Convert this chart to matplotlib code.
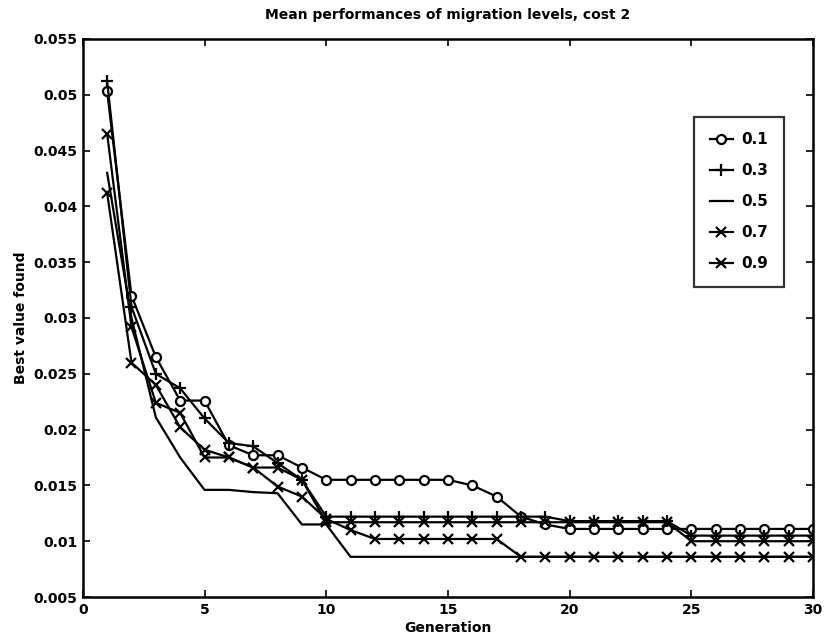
import matplotlib
matplotlib.use("Agg")
import matplotlib.pyplot as plt
import numpy as np

generations = list(range(1, 31))

mig_01 = [0.0503, 0.0320, 0.0265, 0.0226, 0.0226, 0.0186, 0.0177, 0.0177, 0.0166, 0.0155,
          0.0155, 0.0155, 0.0155, 0.0155, 0.0155, 0.0150, 0.0140, 0.0122, 0.0115, 0.0111,
          0.0111, 0.0111, 0.0111, 0.0111, 0.0111, 0.0111, 0.0111, 0.0111, 0.0111, 0.0111]
mig_03 = [0.0512, 0.0310, 0.0250, 0.0237, 0.0210, 0.0188, 0.0185, 0.0170, 0.0155, 0.0122,
          0.0122, 0.0122, 0.0122, 0.0122, 0.0122, 0.0122, 0.0122, 0.0122, 0.0122, 0.0118,
          0.0118, 0.0118, 0.0118, 0.0118, 0.0105, 0.0105, 0.0105, 0.0105, 0.0105, 0.0105]
mig_05 = [0.0430, 0.0300, 0.0211, 0.0175, 0.0146, 0.0146, 0.0144, 0.0143, 0.0115, 0.0115,
          0.0086, 0.0086, 0.0086, 0.0086, 0.0086, 0.0086, 0.0086, 0.0086, 0.0086, 0.0086,
          0.0086, 0.0086, 0.0086, 0.0086, 0.0086, 0.0086, 0.0086, 0.0086, 0.0086, 0.0086]
mig_07 = [0.0465, 0.0292, 0.0224, 0.0215, 0.0175, 0.0175, 0.0166, 0.0166, 0.0155, 0.0117,
          0.0117, 0.0117, 0.0117, 0.0117, 0.0117, 0.0117, 0.0117, 0.0117, 0.0117, 0.0117,
          0.0117, 0.0117, 0.0117, 0.0117, 0.0100, 0.0100, 0.0100, 0.0100, 0.0100, 0.0100]
mig_09 = [0.0412, 0.0260, 0.0240, 0.0202, 0.0182, 0.0175, 0.0166, 0.0149, 0.0140, 0.0120,
          0.0110, 0.0102, 0.0102, 0.0102, 0.0102, 0.0102, 0.0102, 0.0086, 0.0086, 0.0086,
          0.0086, 0.0086, 0.0086, 0.0086, 0.0086, 0.0086, 0.0086, 0.0086, 0.0086, 0.0086]

legend_labels = ["0.1", "0.3", "0.5", "0.7", "0.9"]
x_ticks = [0, 5, 10, 15, 20, 25, 30]
y_ticks = [0.005, 0.01, 0.015, 0.02, 0.025, 0.03, 0.035, 0.04, 0.045, 0.05, 0.055]
y_tick_labels = ["0.005", "0.01", "0.015", "0.02", "0.025", "0.03", "0.035",
                 "0.04", "0.045", "0.05", "0.055"]

plt.rcParams['font.family'] = ['DejaVu Sans']
fig = plt.figure(figsize=(8.28, 6.43), dpi=100)
ax = fig.add_axes([0.100, 0.0715, 0.882, 0.868])

lw = 1.6
ax.plot(generations, mig_01, color='black', lw=lw, marker='o', markersize=6.5,
        markerfacecolor='white', markeredgewidth=1.6, label=legend_labels[0])
ax.plot(generations, mig_03, color='black', lw=lw, marker='+', markersize=8,
        markeredgewidth=1.6, label=legend_labels[1])
ax.plot(generations, mig_05, color='black', lw=lw, label=legend_labels[2])
ax.plot(generations, mig_07, color='black', lw=lw, marker='x', markersize=6.5,
        markeredgewidth=1.6, label=legend_labels[3])
ax.plot(generations, mig_09, color='black', lw=lw, marker='x', markersize=6.5,
        markeredgewidth=1.6, label=legend_labels[4])

ax.set_xlim(0, 30)
ax.set_ylim(0.005, 0.055)
ax.set_xticks(x_ticks)
ax.set_xticklabels([str(t) for t in x_ticks], fontsize=10, fontweight='bold')
ax.set_yticks(y_ticks)
ax.set_yticklabels(y_tick_labels, fontsize=10, fontweight='bold')
ax.tick_params(direction='in', top=True, right=True, length=5, width=1.2, pad=4)
for s in ax.spines.values():
    s.set_linewidth(1.8)

ax.set_title("Mean performances of migration levels, cost 2", fontsize=10,
             fontweight='bold', pad=14)
ax.set_xlabel("Generation", fontsize=10, fontweight='bold', labelpad=3)
ax.set_ylabel("Best value found", fontsize=10, fontweight='bold', labelpad=4)

leg = ax.legend(loc='upper right', bbox_to_anchor=(0.96, 0.86), fontsize=11,
                frameon=True, fancybox=False, edgecolor='black', handlelength=1.5,
                labelspacing=1.05, borderpad=1.0, handletextpad=0.6,
                borderaxespad=0.0)
leg.get_frame().set_linewidth(1.6)
for t in leg.get_texts():
    t.set_fontweight('bold')

fig.savefig("out.png", dpi=100)
